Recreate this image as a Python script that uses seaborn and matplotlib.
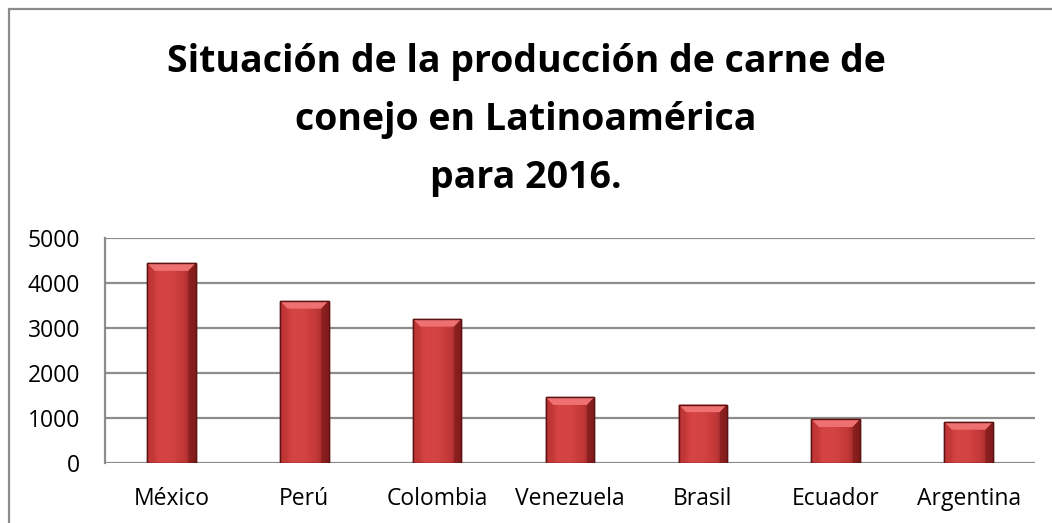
import numpy as np
import pandas as pd
import matplotlib
matplotlib.use("Agg")
import matplotlib.pyplot as plt
import seaborn as sns
from matplotlib.colors import LinearSegmentedColormap
from matplotlib.patches import Rectangle, Polygon

paises = ["México", "Perú", "Colombia", "Venezuela", "Brasil", "Ecuador", "Argentina"]
produccion = [4440, 3600, 3200, 1460, 1300, 970, 910]
yticks = [0, 1000, 2000, 3000, 4000, 5000]
titulo = "Situación de la producción de carne de\nconejo en Latinoamérica\npara 2016."

df = pd.DataFrame({"pais": paises, "valor": produccion})

sns.set_style("white")
plt.rcParams["font.family"] = ["Open Sans", "DejaVu Sans"]
plt.rcParams["text.color"] = "#000000"

fig = plt.figure(figsize=(10.52, 5.23), dpi=100)
ax = fig.add_axes([105 / 1052, 1 - 463 / 523, (1035 - 105) / 1052, (463 - 238) / 523])

sns.barplot(data=df, x="pais", y="valor", color="#c93a3a", width=0.365,
            edgecolor="#5a1212", linewidth=1.0, ax=ax, zorder=3)

ax.set_ylim(0, 5000)
ax.set_yticks(yticks)
ax.set_xlim(-0.5, len(paises) - 0.5)
ax.grid(axis="y", color="#8c8c8c", linewidth=1.6, zorder=0)
ax.set_axisbelow(True)
for s in ["top", "right", "bottom"]:
    ax.spines[s].set_visible(False)
ax.spines["left"].set_color("#8c8c8c")
ax.spines["left"].set_linewidth(1.6)
ax.tick_params(axis="both", length=0, labelsize=16.5, colors="#000000")
ax.tick_params(axis="y", pad=18)
ax.tick_params(axis="x", pad=17)
ax.set_xlabel("")
ax.set_ylabel("")

# gradient fill and bevel for bars
cmap = LinearSegmentedColormap.from_list(
    "barg", ["#b53030", "#d64444", "#d44343", "#c23838", "#8a1e1e"])
grad = np.linspace(0, 1, 256).reshape(1, -1)
bev_y = 170   # bevel height in data units (~8 px)
bev_x = 0.055  # bevel width in category units
for p in ax.patches[:]:
    x0, y0 = p.get_x(), p.get_y()
    w, h = p.get_width(), p.get_height()
    im = ax.imshow(grad, extent=[x0, x0 + w, y0, y0 + h], aspect="auto",
                   cmap=cmap, zorder=3.5, origin="lower")
    im.set_clip_path(p)
    yt = y0 + h
    top = Polygon([[x0, yt], [x0 + w, yt], [x0 + w - bev_x, yt - bev_y],
                   [x0 + bev_x, yt - bev_y]], closed=True,
                  facecolor="#ee7070", edgecolor="none", zorder=3.6)
    ax.add_patch(top)
    left = Polygon([[x0, yt], [x0 + bev_x, yt - bev_y], [x0 + bev_x, y0], [x0, y0]],
                   closed=True, facecolor="#c23636", edgecolor="none", alpha=0.6, zorder=3.6)
    ax.add_patch(left)
    right = Polygon([[x0 + w, yt], [x0 + w - bev_x, yt - bev_y], [x0 + w - bev_x, y0],
                     [x0 + w, y0]], closed=True, facecolor="#7a1818", edgecolor="none",
                    alpha=0.6, zorder=3.6)
    ax.add_patch(right)
    edge = Rectangle((x0, y0), w, h, facecolor="none", edgecolor="#5a1212",
                     linewidth=1.0, zorder=3.7)
    ax.add_patch(edge)
ax.set_xlim(-0.5, len(paises) - 0.5)
ax.set_ylim(0, 5000)

fig.text(0.5, 1 - 120 / 523, titulo, ha="center", va="center", fontsize=27,
         fontweight="bold", linespacing=1.68, color="#000000")

border = Rectangle((9 / 1052, -0.1), 1.2, 1 - 9 / 523 + 0.1, transform=fig.transFigure,
                   facecolor="none", edgecolor="#8c8c8c", linewidth=1.6)
fig.add_artist(border)

fig.savefig("out.png", dpi=100)
